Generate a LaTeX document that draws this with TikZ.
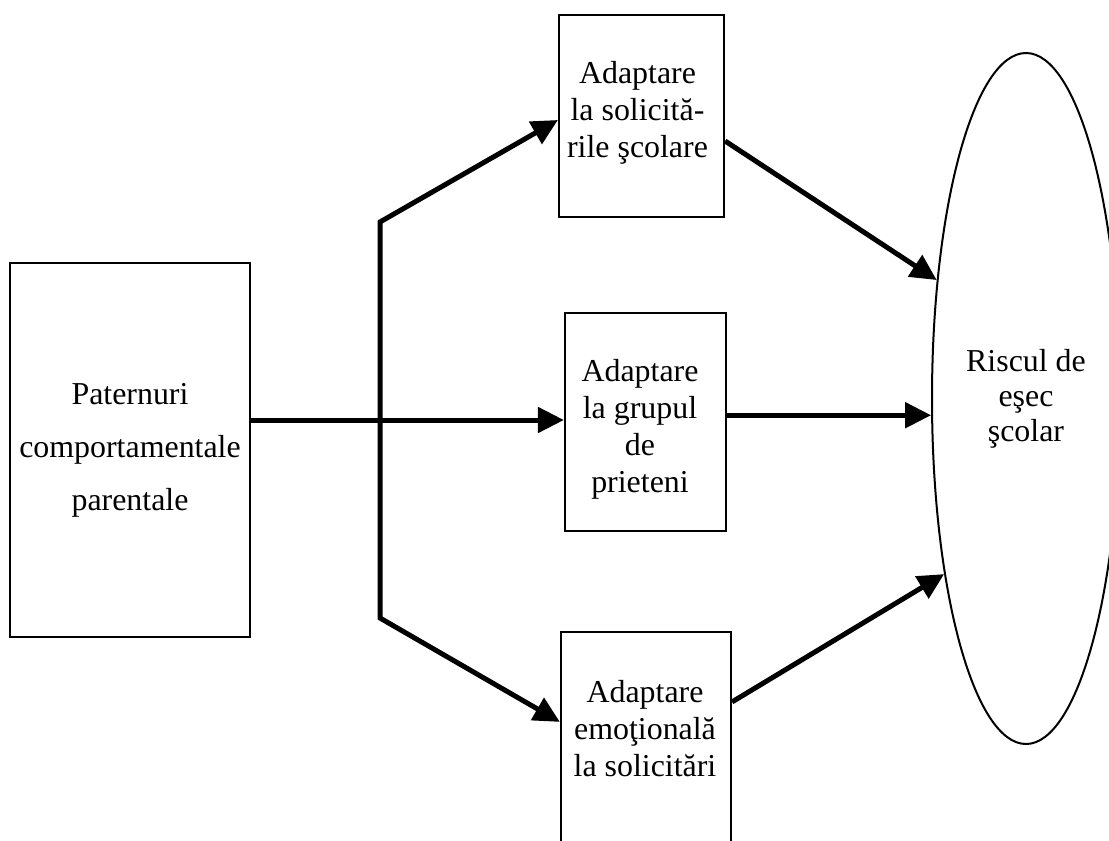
\documentclass[tikz,border=0pt]{standalone}
\usepackage{fontspec}
\setmainfont{Liberation Serif}
\usetikzlibrary{arrows.meta,shapes.geometric}
\begin{document}
\begin{tikzpicture}[x=1pt,y=-1pt,
  box/.style={draw, line width=2.2pt, inner sep=0pt},
  lbl/.style={font=\fontsize{31.9}{37}\selectfont, align=center, inner sep=0pt},
  ln/.style={line width=5pt},
  arr/.style={line width=5pt, -{Triangle[length=26pt,width=25pt]}},
  darr/.style={line width=5pt, {Triangle[length=26pt,width=25pt]}-{Triangle[length=26pt,width=25pt]}}]
\useasboundingbox (0,0) rectangle (1109,841);
\clip (0,0) rectangle (1109,841);
% boxes
\node[box, minimum width=240pt, minimum height=374pt, font=\fontsize{31.9}{53}\selectfont, align=center] (par) at (130,450) {Paternuri\\comportamentale\\parentale};
\node[box, minimum width=165pt, minimum height=202pt] (sco) at (641.5,116) {};
\node[lbl, anchor=north] (scotxt) at (637.5,61) {Adaptare\\la solicită-\\rile şcolare};
\node[box, minimum width=161pt, minimum height=218pt] (grp) at (645.5,422) {};
\node[lbl, anchor=north] (grptxt) at (640,359) {Adaptare\\la grupul\\de\\prieteni};
\node[box, minimum width=170pt, minimum height=268pt] (emo) at (646,766) {};
\node[lbl, anchor=north] (emotxt) at (645,680) {Adaptare\\emoţională\\la solicitări};
\node[draw, ellipse, line width=2pt, inner sep=0pt, minimum width=188pt, minimum height=691pt, font=\fontsize{31.9}{35}\selectfont, align=center] (risc) at (1026,398.5) {Riscul de\\eşec\\şcolar};
% connectors
\coordinate (fT) at (380,222);
\coordinate (fB) at (380,618);
\coordinate (mt) at ([yshift=2pt]grp.west);
\draw[arr] (par.east |- mt) -- (mt);
\draw[darr] ([yshift=-4pt]sco.west) -- (fT) -- (fB) -- ([yshift=-91pt]emo.north west);
\draw[arr] ([yshift=-25pt]sco.east) -- (risc.127);
\draw[arr] (grp.east |- risc.190) -- (risc.190);
\draw[arr] ([yshift=-71pt]emo.north east) -- (risc.245);
\end{tikzpicture}
\end{document}
